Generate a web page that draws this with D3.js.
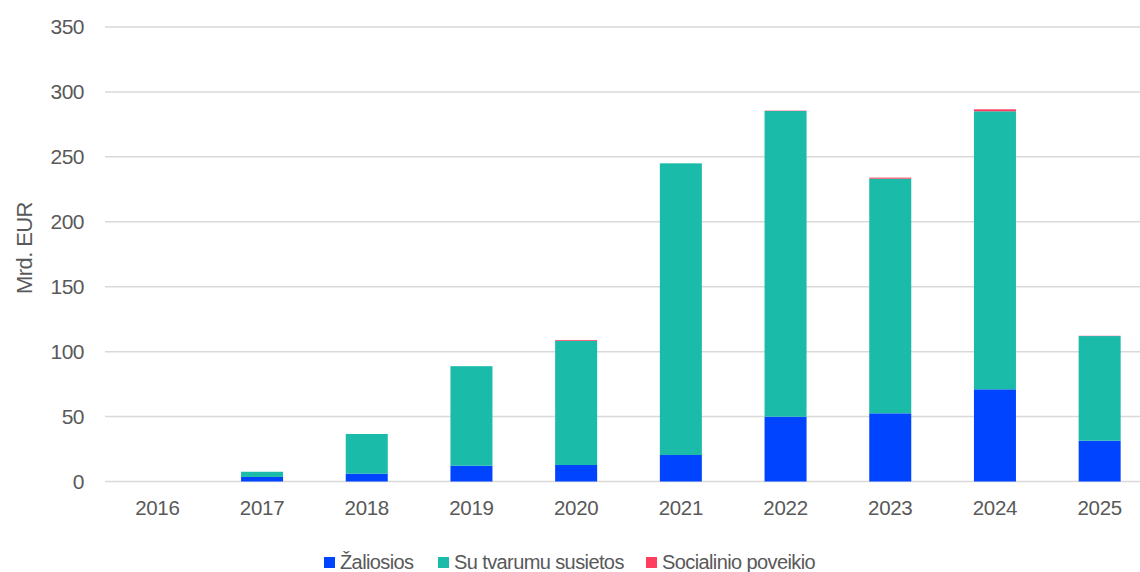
<!DOCTYPE html>
<html>
<head>
<meta charset="utf-8">
<script src="https://cdn.jsdelivr.net/npm/d3@7"></script>
<style>
  body { margin: 0; background: #fff; }
  svg { display: block; font-family: "Liberation Sans", Arial, sans-serif; }
</style>
</head>
<body>
<svg id="chart" width="1140" height="572"></svg>
<script>
const years = ["2016","2017","2018","2019","2020","2021","2022","2023","2024","2025"];
const green = [0, 3.5, 6, 12.2, 12.7, 20.4, 49.9, 52.5, 71, 31.4];
const sustainability = [0, 4, 30.6, 76.6, 95.7, 224.6, 235.4, 180.7, 214.1, 80.6];
const social = [0, 0, 0, 0, 0.6, 0, 0.3, 0.8, 1.5, 0.2];
const seriesNames = ["Žaliosios", "Su tvarumu susietos", "Socialinio poveikio"];
const colors = ["#0044FF", "#1ABBA8", "#FF3D5F"];
const yTicks = [0, 50, 100, 150, 200, 250, 300, 350];

const svg = d3.select("#chart");
const textColor = "#595959";

const x = d3.scaleBand().domain(years).range([105, 1152]).paddingInner(0.6).paddingOuter(0.3);
const y = d3.scaleLinear().domain([0, 350]).range([481.5, 27]);

// gridlines
svg.append("g").selectAll("line").data(yTicks).join("line")
  .attr("x1", 105).attr("x2", 1140)
  .attr("y1", d => y(d)).attr("y2", d => y(d))
  .attr("stroke", "#D9D9D9").attr("stroke-width", 1.5);

// y axis
const yAxis = svg.append("g").attr("transform", "translate(92,0)")
  .call(d3.axisLeft(y).tickValues(yTicks).tickSize(0).tickPadding(8));
yAxis.select(".domain").remove();
yAxis.selectAll("text").attr("font-size", 21).attr("fill", textColor)
  .attr("font-family", "Liberation Sans, Arial, sans-serif").attr("letter-spacing", -0.5);

// x axis
const xAxis = svg.append("g").attr("transform", "translate(0,492)")
  .call(d3.axisBottom(x).tickSize(0).tickPadding(8));
xAxis.select(".domain").remove();
xAxis.selectAll("text").attr("font-size", 20.5).attr("fill", textColor)
  .attr("font-family", "Liberation Sans, Arial, sans-serif").attr("letter-spacing", -0.3);

// y title
svg.append("text")
  .attr("transform", "translate(32,248) rotate(-90)")
  .attr("text-anchor", "middle")
  .attr("font-size", 22).attr("fill", textColor).attr("letter-spacing", -0.6)
  .text("Mrd. EUR");

// stacked bars
const rows = years.map((yr, i) => ({year: yr, s0: green[i], s1: sustainability[i], s2: social[i]}));
const stack = d3.stack().keys(["s0", "s1", "s2"])(rows);
const bw = 42;
svg.append("g").selectAll("g").data(stack).join("g")
  .attr("fill", (d, i) => colors[i])
  .selectAll("rect").data(d => d).join("rect")
  .attr("x", d => x(d.data.year) + x.bandwidth() / 2 - bw / 2)
  .attr("width", bw)
  .attr("y", d => y(d[1]))
  .attr("height", d => Math.max(0, y(d[0]) - y(d[1])));

// legend
const legendX = [324, 438, 646];
const lg = svg.append("g");
seriesNames.forEach((name, i) => {
  lg.append("rect").attr("x", legendX[i]).attr("y", 557).attr("width", 11).attr("height", 11).attr("fill", colors[i]);
  lg.append("text").attr("x", legendX[i] + 16).attr("y", 569)
    .attr("font-size", 20).attr("fill", textColor).attr("letter-spacing", -0.6)
    .text(name);
});
</script>
</body>
</html>
